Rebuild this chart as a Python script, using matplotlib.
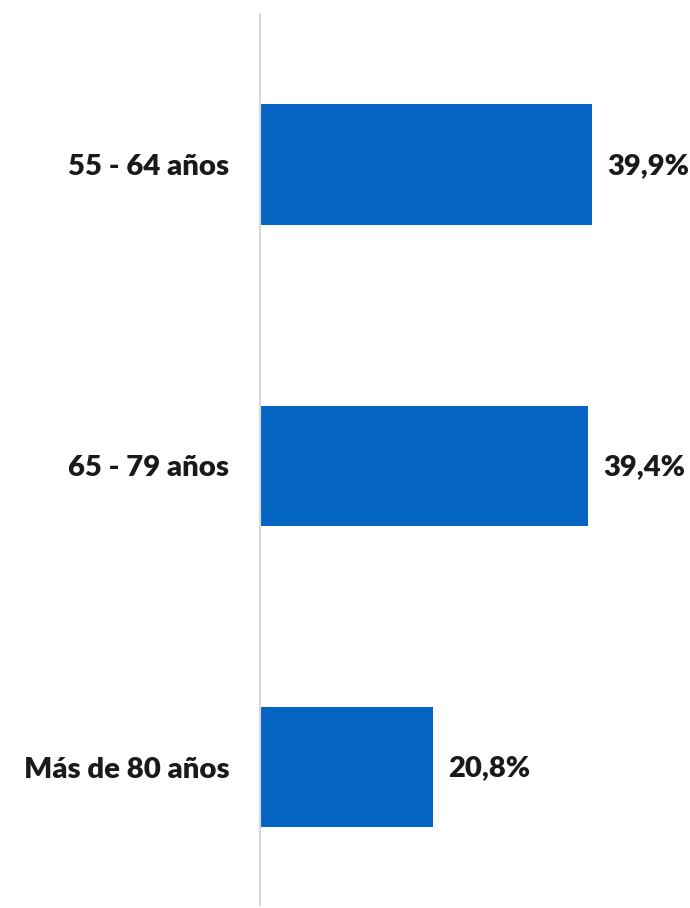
import matplotlib
matplotlib.use("Agg")
import matplotlib.pyplot as plt

categories = ["55 - 64 años", "65 - 79 años", "Más de 80 años"]
values = [39.9, 39.4, 20.8]
value_labels = ["39,9%", "39,4%", "20,8%"]

plt.rcParams['font.family'] = ['Lato', 'DejaVu Sans']

fig = plt.figure(figsize=(6.9, 9.08), dpi=100)
ax = fig.add_axes([260/690, 1-905/908, 1-260/690, (905-14)/908])

y = list(range(len(categories)))
ax.barh(y, values, height=0.4, color="#0565C2", left=0)
ax.set_xlim(0, 430/8.32)
ax.set_ylim(2.458, -0.5)

for yi, v, lab in zip(y, values, value_labels):
    ax.text(v + 15/8.32, yi + 0.005, lab, va="center", ha="left", fontsize=21, fontweight="heavy", color="#1a1a1a")

ax.set_yticks(y)
ax.set_yticklabels(categories, fontsize=21.2, fontweight="heavy", color="#1a1a1a")
ax.tick_params(axis="y", length=0, pad=22)
ax.set_xticks([])
for s in ["top", "right", "bottom"]:
    ax.spines[s].set_visible(False)
ax.spines["left"].set_color("#d9d9d9")
ax.spines["left"].set_linewidth(1.5)
ax.patch.set_alpha(0)

fig.savefig("out.png", dpi=100)
